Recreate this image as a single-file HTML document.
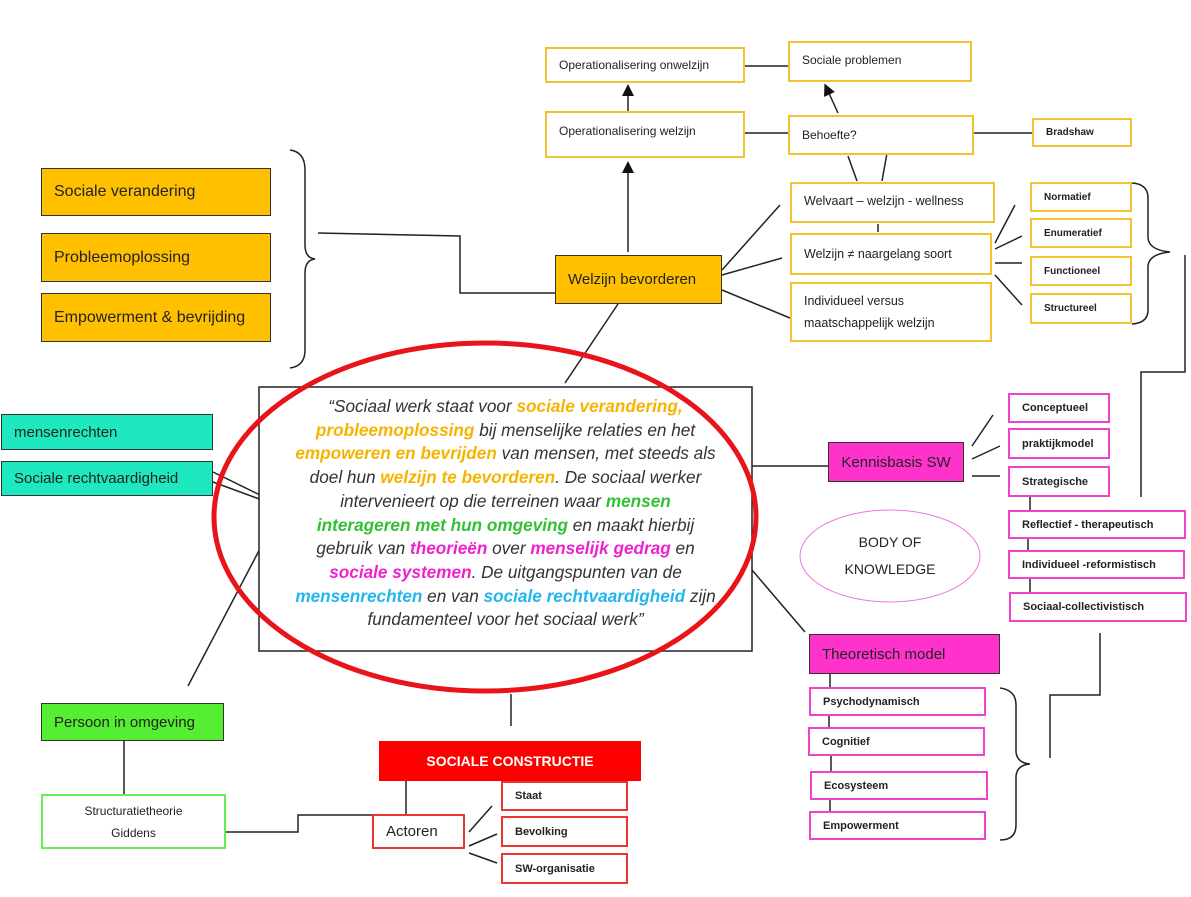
<!DOCTYPE html>
<html><head><meta charset="utf-8"><style>
body{margin:0;width:1191px;height:897px;background:#fff;position:relative;overflow:hidden;font-family:"Liberation Sans",sans-serif;color:#222}
.b{position:absolute;box-sizing:border-box;display:flex;align-items:center;padding-left:12px;font-size:13px}
.y{border:2px solid #f2c230;background:#fff}
.o{border:1.5px solid #333;background:#ffc000;font-size:16px}
.p{border:2px solid #ee44cc;background:#fff;font-size:11px;font-weight:bold}
.ys{border:2px solid #f2c230;background:#fff;font-size:11px;font-weight:bold}
.r{border:2px solid #e33;background:#fff;font-size:11px;font-weight:bold}
svg{position:absolute;left:0;top:0}
#ct{position:absolute;left:259px;top:395px;width:493px;text-align:center;font-style:italic;font-size:17.2px;line-height:23.7px;color:#333}
.c1{color:#f5b400;font-weight:bold}.c2{color:#33c033;font-weight:bold}.c3{color:#ee22cc;font-weight:bold}.c4{color:#22b5ee;font-weight:bold}
</style></head><body>
<svg width="1191" height="897">
<defs><marker id="a" markerWidth="8" markerHeight="8" refX="4" refY="4" orient="auto"><path d="M0,0 L8,4 L0,8z" fill="#111"/></marker></defs>
<g stroke="#222" stroke-width="1.5" fill="none">
<path d="M290,150 Q305,152 305,170 L305,245 Q305,258 315,259 Q305,260 305,273 L305,350 Q305,366 290,368"/>
<path d="M318,233 L460,236 L460,293 L555,293"/>
<line x1="628" y1="252" x2="628" y2="167" marker-end="url(#a)"/>
<line x1="628" y1="111" x2="628" y2="90" marker-end="url(#a)"/>
<line x1="745" y1="133" x2="788" y2="133"/>
<line x1="745" y1="66" x2="788" y2="66"/>
<line x1="838" y1="113" x2="827" y2="89" marker-end="url(#a)"/>
<line x1="857" y1="181" x2="848" y2="156"/>
<line x1="882" y1="181" x2="889" y2="142" marker-end="url(#a)"/>
<line x1="974" y1="133" x2="1032" y2="133"/>
<line x1="722" y1="270" x2="780" y2="205"/>
<line x1="722" y1="275" x2="782" y2="258"/>
<line x1="722" y1="290" x2="790" y2="318"/>
<line x1="878" y1="224" x2="878" y2="232"/>
<line x1="995" y1="243" x2="1015" y2="205"/>
<line x1="995" y1="249" x2="1022" y2="236"/>
<line x1="995" y1="263" x2="1022" y2="263"/>
<line x1="995" y1="275" x2="1022" y2="305"/>
<path d="M1132,183 Q1148,184 1148,198 L1148,238 Q1149,250 1170,252 Q1149,254 1148,266 L1148,310 Q1148,323 1132,324"/>
<path d="M1185,255 L1185,372 L1141,372 L1141,497"/>
<line x1="618" y1="304" x2="565" y2="383"/>
<line x1="213" y1="472" x2="262" y2="496"/>
<line x1="213" y1="482" x2="262" y2="500"/>
<line x1="263" y1="543" x2="188" y2="686"/>
<line x1="752" y1="466" x2="828" y2="466"/>
<line x1="752" y1="570" x2="805" y2="632"/>
<line x1="511" y1="694" x2="511" y2="726"/>
<line x1="124" y1="741" x2="124" y2="794"/>
<path d="M226,832 L298,832 L298,815 L372,815"/>
<line x1="406" y1="781" x2="406" y2="814"/>
<line x1="469" y1="832" x2="492" y2="806"/>
<line x1="469" y1="846" x2="497" y2="834"/>
<line x1="469" y1="853" x2="497" y2="863"/>
<line x1="972" y1="446" x2="993" y2="415"/>
<line x1="972" y1="459" x2="1000" y2="446"/>
<line x1="972" y1="476" x2="1000" y2="476"/>
<line x1="1030" y1="497" x2="1030" y2="510"/>
<line x1="1028" y1="539" x2="1028" y2="550"/>
<line x1="1030" y1="579" x2="1030" y2="592"/>
<path d="M1100,633 L1100,695 L1050,695 L1050,758"/>
<line x1="830" y1="674" x2="830" y2="687"/>
<line x1="829" y1="716" x2="829" y2="727"/>
<line x1="831" y1="756" x2="831" y2="771"/>
<line x1="830" y1="800" x2="830" y2="811"/>
<path d="M1000,688 Q1016,690 1016,705 L1016,752 Q1017,763 1030,764 Q1017,765 1016,776 L1016,825 Q1016,840 1000,840"/>
</g>
<rect x="259" y="387" width="493" height="264" fill="#fff" stroke="#222" stroke-width="1.5"/>
<ellipse cx="485" cy="517" rx="271" ry="174" fill="none" stroke="#e8141a" stroke-width="5"/>
<ellipse cx="890" cy="556" rx="90" ry="46" fill="#fff" stroke="#ee77dd" stroke-width="1"/>
<text x="890" y="547" font-size="14" text-anchor="middle" font-family="Liberation Sans" fill="#222">BODY OF</text>
<text x="890" y="574" font-size="14" text-anchor="middle" font-family="Liberation Sans" fill="#222">KNOWLEDGE</text>
</svg>
<div id="ct">“Sociaal werk staat voor <span class="c1">sociale verandering,</span><br><span class="c1">probleemoplossing</span> bij menselijke relaties en het<br><span class="c1">empoweren en bevrijden</span> van mensen, met steeds als<br>doel hun <span class="c1">welzijn te bevorderen</span>. De sociaal werker<br>intervenieert op die terreinen waar <span class="c2">mensen</span><br><span class="c2">interageren met hun omgeving</span> en maakt hierbij<br>gebruik van <span class="c3">theorieën</span> over <span class="c3">menselijk gedrag</span> en<br><span class="c3">sociale systemen</span>. De uitgangspunten van de<br><span class="c4">mensenrechten</span> en van <span class="c4">sociale rechtvaardigheid</span> zijn<br>fundamenteel voor het sociaal werk”</div>

<div class="b y" style="left:545px;top:47px;width:200px;height:36px;font-size:12px">Operationalisering onwelzijn</div>
<div class="b y" style="left:788px;top:41px;width:184px;height:41px;font-size:12px;align-items:flex-start;padding-top:10px">Sociale problemen</div>
<div class="b y" style="left:545px;top:111px;width:200px;height:47px;font-size:12px;align-items:flex-start;padding-top:11px">Operationalisering welzijn</div>
<div class="b y" style="left:788px;top:115px;width:186px;height:40px;font-size:12px">Behoefte?</div>
<div class="b ys" style="left:1032px;top:118px;width:100px;height:29px;font-size:10px">Bradshaw</div>
<div class="b y" style="left:790px;top:182px;width:205px;height:41px;font-size:12.5px;align-items:flex-start;padding-top:10px">Welvaart – welzijn - wellness</div>
<div class="b y" style="left:790px;top:233px;width:202px;height:42px;font-size:12.5px;overflow:hidden">Welzijn ≠ naargelang soort</div>
<div class="b y" style="left:790px;top:282px;width:202px;height:60px;font-size:12.5px;line-height:22px">Individueel versus<br>maatschappelijk welzijn</div>
<div class="b ys" style="left:1030px;top:182px;width:102px;height:30px;font-size:10px">Normatief</div>
<div class="b ys" style="left:1030px;top:218px;width:102px;height:30px;font-size:10px">Enumeratief</div>
<div class="b ys" style="left:1030px;top:256px;width:102px;height:30px;font-size:10px">Functioneel</div>
<div class="b ys" style="left:1030px;top:293px;width:102px;height:31px;font-size:10px">Structureel</div>

<div class="b o" style="left:41px;top:168px;width:230px;height:48px">Sociale verandering</div>
<div class="b o" style="left:41px;top:233px;width:230px;height:49px">Probleemoplossing</div>
<div class="b o" style="left:41px;top:293px;width:230px;height:49px">Empowerment &amp; bevrijding</div>
<div class="b o" style="left:555px;top:255px;width:167px;height:49px;font-size:15px">Welzijn bevorderen</div>

<div class="b" style="left:1px;top:414px;width:212px;height:36px;background:#1ee8c0;border:1.5px solid #333;font-size:15px">mensenrechten</div>
<div class="b" style="left:1px;top:461px;width:212px;height:35px;background:#1ee8c0;border:1.5px solid #333;font-size:15px">Sociale rechtvaardigheid</div>

<div class="b" style="left:828px;top:442px;width:136px;height:40px;background:#ff33cc;border:1.5px solid #333;font-size:15px;justify-content:center;padding:0">Kennisbasis SW</div>
<div class="b p" style="left:1008px;top:393px;width:102px;height:30px">Conceptueel</div>
<div class="b p" style="left:1008px;top:428px;width:102px;height:31px">praktijkmodel</div>
<div class="b p" style="left:1008px;top:466px;width:102px;height:31px">Strategische</div>
<div class="b p" style="left:1008px;top:510px;width:178px;height:29px">Reflectief - therapeutisch</div>
<div class="b p" style="left:1008px;top:550px;width:177px;height:29px">Individueel -reformistisch</div>
<div class="b p" style="left:1009px;top:592px;width:178px;height:30px">Sociaal-collectivistisch</div>

<div class="b" style="left:809px;top:634px;width:191px;height:40px;background:#ff33cc;border:1.5px solid #333;font-size:15px">Theoretisch model</div>
<div class="b p" style="left:809px;top:687px;width:177px;height:29px">Psychodynamisch</div>
<div class="b p" style="left:808px;top:727px;width:177px;height:29px">Cognitief</div>
<div class="b p" style="left:810px;top:771px;width:178px;height:29px">Ecosysteem</div>
<div class="b p" style="left:809px;top:811px;width:177px;height:29px">Empowerment</div>

<div class="b" style="left:41px;top:703px;width:183px;height:38px;background:#55ee33;border:1.5px solid #333;font-size:15px">Persoon in omgeving</div>
<div class="b" style="left:41px;top:794px;width:185px;height:55px;border:2px solid #66ee55;font-size:12px;justify-content:center;text-align:center;line-height:22px;padding:0">Structuratietheorie<br>Giddens</div>
<div class="b" style="left:379px;top:741px;width:262px;height:40px;background:#f00;color:#fff;font-weight:bold;font-size:14px;justify-content:center;padding:0">SOCIALE CONSTRUCTIE</div>
<div class="b" style="left:372px;top:814px;width:93px;height:35px;border:2px solid #e33;background:#fff;font-size:15px">Actoren</div>
<div class="b r" style="left:501px;top:781px;width:127px;height:30px">Staat</div>
<div class="b r" style="left:501px;top:816px;width:127px;height:31px">Bevolking</div>
<div class="b r" style="left:501px;top:853px;width:127px;height:31px">SW-organisatie</div>
</body></html>
